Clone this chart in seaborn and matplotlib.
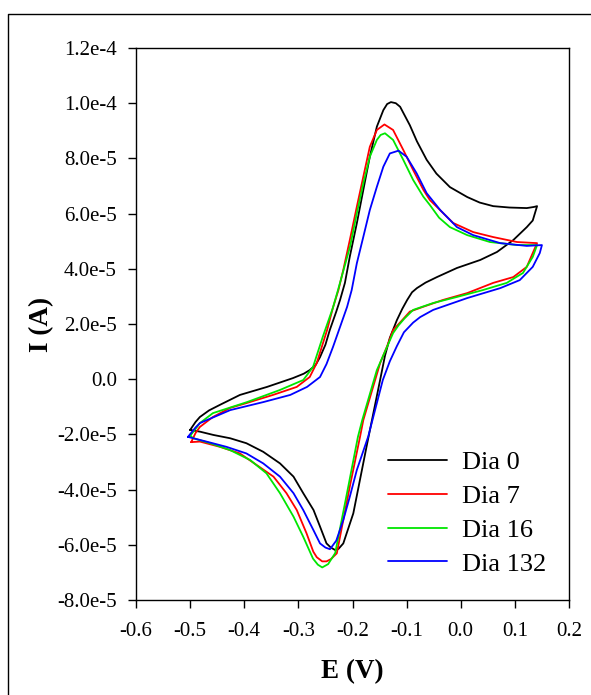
import numpy as np
import pandas as pd
import matplotlib
matplotlib.use("Agg")
import matplotlib.pyplot as plt
import seaborn as sns
from matplotlib.lines import Line2D

# ---------------- data (E in V, I in units of 1e-5 A), scan order ----------------
days = ["Dia 0", "Dia 7", "Dia 16", "Dia 132"]
colors = ["#000000", "#ff0000", "#00e600", "#0000ff"]

e_dia0 = [-0.500, -0.490, -0.482, -0.465, -0.445, -0.408, -0.358, -0.310, -0.290, -0.279,
          -0.268, -0.260, -0.250, -0.242, -0.230, -0.223, -0.214, -0.205, -0.192, -0.180,
          -0.168, -0.155, -0.143, -0.136, -0.129, -0.120, -0.112, -0.094, -0.081, -0.063,
          -0.045, -0.020, 0.012, 0.035, 0.060, 0.090, 0.122, 0.135, 0.141,
          0.133, 0.122, 0.097, 0.067, 0.036, -0.007, -0.044, -0.065, -0.081, -0.090,
          -0.099, -0.108, -0.118, -0.131, -0.140, -0.149, -0.174, -0.1985, -0.217, -0.226,
          -0.232, -0.240, -0.248, -0.260, -0.272, -0.291, -0.309, -0.334, -0.365, -0.396,
          -0.426, -0.457, -0.482, -0.500]
i_dia0 = [-1.84, -1.55, -1.37, -1.13, -0.93, -0.57, -0.28, 0.04, 0.20, 0.33,
          0.52, 0.80, 1.25, 1.78, 2.45, 2.87, 3.49, 4.44, 5.65, 6.86,
          8.06, 9.15, 9.75, 9.97, 10.04, 10.00, 9.87, 9.20, 8.62, 7.95,
          7.45, 6.96, 6.60, 6.40, 6.27, 6.22, 6.20, 6.24, 6.27,
          5.75, 5.51, 5.04, 4.61, 4.32, 4.03, 3.70, 3.50, 3.30, 3.15,
          2.87, 2.55, 2.14, 1.50, 0.85, -0.03, -2.44, -4.86, -5.95, -6.15,
          -6.19, -6.10, -5.95, -5.34, -4.74, -4.13, -3.53, -3.05, -2.63, -2.32,
          -2.14, -2.02, -1.90, -1.84]

e_dia7 = [-0.498, -0.490, -0.482, -0.458, -0.426, -0.395, -0.347, -0.303, -0.279, -0.266,
          -0.247, -0.236, -0.226, -0.217, -0.205, -0.192, -0.180, -0.168, -0.155, -0.141,
          -0.125, -0.106, -0.088, -0.069, -0.057, -0.044, -0.014, 0.023, 0.060, 0.104,
          0.141,
          0.133, 0.122, 0.097, 0.060, 0.012, -0.033, -0.070, -0.094, -0.110, -0.125,
          -0.136, -0.149, -0.180, -0.186, -0.205, -0.229, -0.240, -0.248, -0.256, -0.266,
          -0.2724, -0.285, -0.303, -0.322, -0.346, -0.377, -0.408, -0.445, -0.482, -0.498]
i_dia7 = [-2.28, -1.95, -1.73, -1.37, -1.04, -0.86, -0.57, -0.28, 0.08, 0.59,
          1.78, 2.60, 3.23, 3.96, 5.04, 6.25, 7.34, 8.42, 9.03, 9.23,
          9.03, 8.30, 7.58, 6.86, 6.49, 6.24, 5.66, 5.33, 5.15, 4.97,
          4.93,
          4.57, 4.07, 3.70, 3.49, 3.12, 2.87, 2.62, 2.45, 2.10, 1.78,
          1.20, 0.58, -1.48, -2.08, -3.89, -6.31, -6.52, -6.60, -6.60, -6.45,
          -6.25, -5.58, -4.74, -4.13, -3.53, -3.11, -2.69, -2.45, -2.26, -2.28]

e_dia16 = [-0.500, -0.490, -0.482, -0.458, -0.395, -0.334, -0.291, -0.273, -0.255, -0.236,
           -0.2268, -0.2046, -0.192, -0.180, -0.168, -0.155, -0.148, -0.140, -0.125, -0.106,
           -0.088, -0.069, -0.057, -0.040, -0.020, 0.012, 0.054, 0.104, 0.141,
           0.133, 0.115, 0.085, 0.041, -0.007, -0.051, -0.088, -0.104, -0.115, -0.125,
           -0.140, -0.155, -0.182, -0.190, -0.208, -0.232, -0.245, -0.256, -0.264, -0.273,
           -0.291, -0.309, -0.334, -0.359, -0.389, -0.426, -0.463, -0.494, -0.500]
i_dia16 = [-2.05, -1.80, -1.59, -1.23, -0.83, -0.39, -0.03, 0.44, 1.53, 2.60,
           3.23, 4.80, 6.01, 7.10, 8.06, 8.67, 8.85, 8.91, 8.67, 7.94,
           7.22, 6.61, 6.31, 5.85, 5.51, 5.22, 4.97, 4.86, 4.86,
           4.43, 3.85, 3.49, 3.23, 2.98, 2.76, 2.51, 2.20, 1.95, 1.67,
           1.00, 0.33, -1.48, -2.09, -3.91, -6.30, -6.70, -6.82, -6.72, -6.50,
           -5.71, -4.98, -4.13, -3.41, -2.93, -2.57, -2.32, -2.14, -2.05]

e_dia132 = [-0.504, -0.490, -0.482, -0.426, -0.365, -0.315, -0.284, -0.260, -0.248, -0.236,
            -0.222, -0.210, -0.2015, -0.192, -0.180, -0.168, -0.155, -0.143, -0.131, -0.115,
            -0.100, -0.0815, -0.063, -0.038, -0.007, 0.023, 0.073, 0.122, 0.150,
            0.146, 0.133, 0.109, 0.073, 0.012, -0.051, -0.075, -0.088, -0.105, -0.118,
            -0.131, -0.144, -0.171, -0.192, -0.205, -0.217, -0.230, -0.2416, -0.250, -0.260,
            -0.2724, -0.291, -0.309, -0.334, -0.365, -0.396, -0.433, -0.470, -0.504]
i_dia132 = [-2.09, -1.75, -1.59, -1.12, -0.83, -0.57, -0.28, 0.08, 0.55, 1.17,
            1.95, 2.62, 3.23, 4.20, 5.16, 6.13, 6.97, 7.70, 8.18, 8.28,
            8.06, 7.46, 6.74, 6.13, 5.51, 5.22, 4.93, 4.83, 4.86,
            4.57, 4.07, 3.59, 3.30, 2.94, 2.51, 2.25, 2.05, 1.70, 1.20,
            0.65, -0.03, -2.08, -3.29, -4.26, -5.10, -5.85, -6.16, -6.10, -5.95,
            -5.46, -4.74, -4.13, -3.53, -3.05, -2.69, -2.45, -2.26, -2.09]

x_ticks = [-0.6, -0.5, -0.4, -0.3, -0.2, -0.1, 0.0, 0.1, 0.2]
x_tick_labels = ["-0.6", "-0.5", "-0.4", "-0.3", "-0.2", "-0.1", "0.0", "0.1", "0.2"]
y_ticks = [-8e-5, -6e-5, -4e-5, -2e-5, 0.0, 2e-5, 4e-5, 6e-5, 8e-5, 1e-4, 1.2e-4]
y_tick_labels = ["-8.0e-5", "-6.0e-5", "-4.0e-5", "-2.0e-5", "0.0", "2.0e-5", "4.0e-5",
                 "6.0e-5", "8.0e-5", "1.0e-4", "1.2e-4"]

# ---------------- build long table ----------------
frames = []
for name, e, i in zip(days, [e_dia0, e_dia7, e_dia16, e_dia132],
                      [i_dia0, i_dia7, i_dia16, i_dia132]):
    frames.append(pd.DataFrame({"E": e, "I": np.array(i) * 1e-5, "Dia": name}))
df = pd.concat(frames, ignore_index=True)

sns.set_theme(style="white")
plt.rcParams["font.family"] = ["Liberation Serif", "DejaVu Serif"]

fig = plt.figure(figsize=(5.91, 6.95), dpi=100)
ax = fig.add_axes([136 / 591, 1 - 600 / 695, 433 / 591, 552 / 695])

sns.lineplot(data=df, x="E", y="I", hue="Dia", hue_order=days, units="Dia",
             palette=dict(zip(days, colors)), sort=False, estimator=None,
             linewidth=1.3, ax=ax)

ax.set_xlim(-0.6, 0.2)
ax.set_ylim(-8e-5, 1.2e-4)
ax.set_xticks(x_ticks)
ax.set_xticklabels(x_tick_labels, fontsize=15)
ax.set_yticks(y_ticks)
ax.set_yticklabels(y_tick_labels, fontsize=15)
ax.tick_params(axis="both", direction="out", length=5.8, width=1, color="black",
               bottom=True, left=True, top=False, right=False, labelcolor="black")
ax.tick_params(axis="x", pad=10)
ax.tick_params(axis="y", pad=8)
for s in ax.spines.values():
    s.set_visible(True)
    s.set_color("black")
    s.set_linewidth(1.0)

ax.set_xlabel("E (V)", fontsize=19.5, fontweight="bold", color="black", labelpad=13)
ax.set_ylabel("I (A)", fontsize=19.5, fontweight="bold", color="black", labelpad=2)

handles, labels = ax.get_legend_handles_labels()
leg = ax.legend(handles, labels, loc="center left", bbox_to_anchor=(0.582, 0.157),
                frameon=False, fontsize=19, handlelength=2.25, handletextpad=0.55,
                labelspacing=0.39, borderpad=0, borderaxespad=0)
for t in leg.get_texts():
    t.set_color("black")

# outer frame of the figure
fig.add_artist(Line2D([8 / 591, 8 / 591, 1.0], [0.0, 1 - 14 / 695, 1 - 14 / 695],
                      transform=fig.transFigure, color="black", linewidth=1.0))

fig.savefig("out.png", dpi=100)
